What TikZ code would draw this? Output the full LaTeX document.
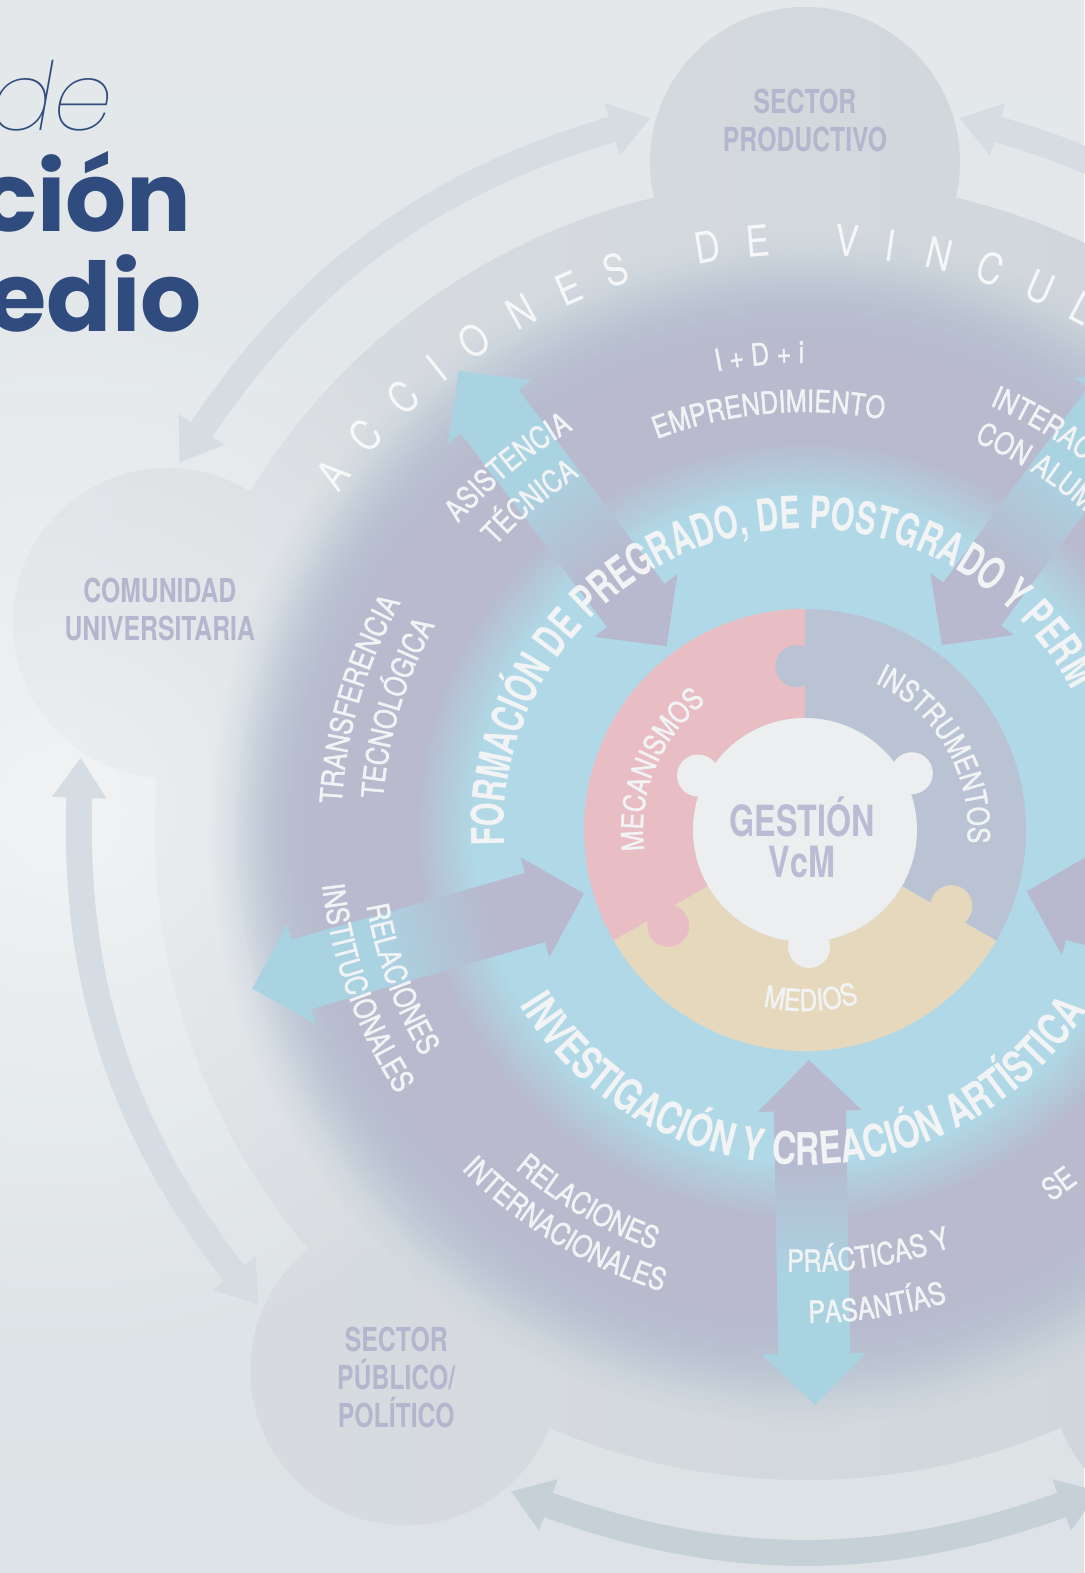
\documentclass[tikz,border=0pt]{standalone}
\usepackage{fontspec}
\setmainfont{TeX Gyre Heros}
\newfontfamily\condbold{TeX Gyre Heros}[FakeStretch=0.75]
\newfontfamily\condboldtop{TeX Gyre Heros}[FakeStretch=0.68]
\newfontfamily\condreg{TeX Gyre Heros}[FakeStretch=0.82,FakeBold=1.4]
\newfontfamily\condlight{TeX Gyre Heros}[FakeStretch=0.82]
\newfontfamily\popthin{Poppins}[UprightFont={* Thin Italic}]
\newfontfamily\popfam{Poppins}
\usetikzlibrary{arrows.meta, positioning, decorations.text, fadings}
\definecolor{bgtop}{HTML}{E4E8EB}
\definecolor{bgmid}{HTML}{F5F6F7}
\definecolor{bgbot}{HTML}{DCE2E5}
\definecolor{discleft}{HTML}{D9DDE1}
\definecolor{discright}{HTML}{CDD3D9}
\definecolor{linkgrey}{HTML}{D5DDE2}
\definecolor{linkdark}{HTML}{C6D1D7}
\definecolor{halo}{HTML}{B5C7D4}
\definecolor{ringpurple}{HTML}{B9BACE}
\definecolor{ringblue}{HTML}{B0D8E6}
\definecolor{linkpurple}{HTML}{B8B9CE}
\definecolor{linkblue}{HTML}{AAD3E2}
\definecolor{segpink}{HTML}{E8BEC4}
\definecolor{seggrey}{HTML}{BAC3D3}
\definecolor{segbeige}{HTML}{E6D8BD}
\definecolor{hub}{HTML}{ECEEF0}
\definecolor{hubtext}{HTML}{BBBCD3}
\definecolor{sectortext}{HTML}{B4B6CE}
\definecolor{bandwhite}{HTML}{F1F3F5}
\definecolor{titleblue}{HTML}{304C7E}
\pgfdeclarehorizontalshading{linkshade}{100bp}{color(0bp)=(linkpurple); color(39bp)=(linkpurple); color(56bp)=(linkblue); color(100bp)=(linkblue)}
\tikzfading[name=leftlight, inner color=transparent!0, outer color=transparent!100]
\pgfdeclarelayer{back}
\pgfsetlayers{back,main}
\newcommand{\bandfont}{\condbold\bfseries\fontsize{22.5}{27}\selectfont\color{bandwhite}}
\newcommand{\bandfonttop}{\condboldtop\bfseries\fontsize{22.5}{27}\selectfont\color{bandwhite}}
\newcommand{\actionfont}{\condreg\fontsize{15.3}{18}\selectfont\color{bandwhite}}
\newcommand{\puzzlefont}{\condreg\fontsize{15}{18}\selectfont\color{bandwhite}}
\tikzset{
  sectornode/.style={circle,minimum size=155pt,inner sep=0pt},
  sectorlabel/.style={align=center,text=sectortext,inner sep=0pt,font=\condbold\bfseries\fontsize{16.5}{19}\selectfont},
  actorlink/.style={line width=13pt,draw=linkgrey,{Triangle[width=26pt,length=20pt]}-{Triangle[width=26pt,length=20pt]},shorten <=3pt,shorten >=3pt},
  accletter/.style={text=white,text opacity=.8,inner sep=0pt,font=\condlight\fontsize{21.5}{24}\selectfont},
  arclabel/.style={decorate,decoration={text along path,text align=center,text={#1}}},
  arclabelleft/.style={decorate,decoration={text along path,text align=left,text={#1}}},
  titlepart/.style={anchor=base east,inner sep=0pt,text=titleblue},
}

\begin{document}
\begin{tikzpicture}[x=0.5pt,y=0.5pt]
  \useasboundingbox (-805,-743) rectangle (279,830);
  % actors round the model
  \node[sectornode] (prod) at (90:668) {};
  \node[sectornode] (comu) at (162:670) {};
  \node[sectornode] (pub) at (233.5:672) {};
  \node[sectornode] (sectorse) at (306.5:672) {};
  \node[sectornode] (sectorne) at (18:670) {};
  \node[sectorlabel] (prodlabel) at ([yshift=21pt]prod.center) {SECTOR\\PRODUCTIVO};
  \node[sectorlabel] (comulabel) at ([xshift=-4pt,yshift=6.5pt]comu.center) {COMUNIDAD\\UNIVERSITARIA};
  \node[sectorlabel] (publabel) at ([xshift=-4.5pt,yshift=-3.5pt]pub.center) {SECTOR\\PÚBLICO/\\POLÍTICO};

  \begin{pgfonlayer}{back}
    \shade[top color=bgtop,middle color=bgmid,bottom color=bgbot] (-805,-743) rectangle (279,830);
    \shade[left color=discleft,right color=discright] (0,0) circle[radius=650]
      (prod.center) circle[radius=155] (comu.center) circle[radius=155]
      (pub.center) circle[radius=155] (sectorse.center) circle[radius=155]
      (sectorne.center) circle[radius=155];
    % light from the left
    \fill[white,opacity=.55,path fading=leftlight] (-745,20) circle[radius=560];
    \draw[actorlink] (prod.163) to[bend right=20] (comu.87);
    \draw[actorlink] (comu.236) to[bend right=20] (pub.157);
    \draw[actorlink,draw=linkdark] (pub.310) to[bend right=20] (sectorse.230);
    \draw[actorlink] (prod.17) to[bend left=20] (sectorne.93);
    \fill[halo,path fading=circle with fuzzy edge 15 percent] (0,0) circle[radius=595];
    \fill[ringpurple,path fading=circle with fuzzy edge 15 percent] (0,0) circle[radius=570];
    \fill[ringblue,path fading=circle with fuzzy edge 15 percent] (0,0) circle[radius=390];
    % two-way links of the actions
    \foreach \a in {53.5,127,196,271,344.5}{
      \begin{scope}[transform canvas={rotate=\a}]
        \shade[shading=linkshade] (230,0) -- (281,52) -- (281,36) -- (524,36) -- (524,52) -- (575,0)
          -- (524,-52) -- (524,-36) -- (281,-36) -- (281,-52) -- cycle;
      \end{scope}}
    % puzzle
    \fill[segpink] (90:221) arc[start angle=90,end angle=210,radius=221] -- (210:112) arc[start angle=210,end angle=90,radius=112] -- cycle;
    \fill[segbeige] (210:221) arc[start angle=210,end angle=330,radius=221] -- (330:112) arc[start angle=330,end angle=210,radius=112] -- cycle;
    \fill[seggrey] (330:221) arc[start angle=330,end angle=450,radius=221] -- (90:112) arc[start angle=90,end angle=-30,radius=112] -- cycle;
    \fill[seggrey] (93:164) circle[radius=21];
    \fill[segpink] (215:167) circle[radius=21];
    \fill[segbeige] (332.5:165) circle[radius=21];
    \fill[hub] (0,0) circle[radius=112] (153:120) circle[radius=21] (28:121) circle[radius=21] (272:117) circle[radius=21];
  \end{pgfonlayer}

  % title
  \node[titlepart,font=\popthin\fontsize{47.5}{50}\selectfont] (titlede) at (-691,699) {de};
  \node[titlepart,font=\popfam\bfseries\fontsize{48}{50}\selectfont] (titlecion) at (-613,598) {ción};
  \node[titlepart,font=\popfam\bfseries\fontsize{48}{50}\selectfont] (titleedio) at (-603,498) {edio};

  % outer ring
  \foreach \a/\l [count=\i] in {143/A,138.1/C,132.9/C,128.6/I,124.1/O,118.7/N,113.5/E,108.7/S,99.5/D,94.6/E,85.9/V,81.7/I,76.8/N,71.7/C,66.5/U,62/L}
    \node[accletter,rotate=\a-90] (acc\i) at (\a:591) {\l};

  % actions
  \path[arclabel={|\actionfont|I\ +\ D\ +\ i}] (125.5:467) arc[start angle=125.5,end angle=65.5,radius=467];
  \path[arclabel={|\actionfont|EMPRENDIMIENTO}] (125:418) arc[start angle=125,end angle=65,radius=418];
  \path[arclabel={|\actionfont|ASISTENCIA}] (159.3:463) arc[start angle=159.3,end angle=99.3,radius=463];
  \path[arclabel={|\actionfont|TÉCNICA}] (160:420) arc[start angle=160,end angle=100,radius=420];
  \path[arclabel={|\actionfont|TRANSFERENCIA}] (193.7:464) arc[start angle=193.7,end angle=133.7,radius=464];
  \path[arclabel={|\actionfont|TECNOLÓGICA}] (193.4:423) arc[start angle=193.4,end angle=133.4,radius=423];
  \path[arclabel={|\actionfont|RELACIONES}] (170.2:445) arc[start angle=170.2,end angle=230.2,radius=445];
  \path[arclabel={|\actionfont|INSTITUCIONALES}] (169.7:486) arc[start angle=169.7,end angle=229.7,radius=486];
  \path[arclabel={|\actionfont|RELACIONES}] (209.8:446) arc[start angle=209.8,end angle=269.8,radius=446];
  \path[arclabel={|\actionfont|INTERNACIONALES}] (208.7:483) arc[start angle=208.7,end angle=268.7,radius=483];
  \path[arclabel={|\actionfont|PRÁCTICAS Y}] (248.5:442) arc[start angle=248.5,end angle=308.5,radius=442];
  \path[arclabel={|\actionfont|PASANTÍAS}] (248.6:493) arc[start angle=248.6,end angle=308.6,radius=493];
  \path[arclabelleft={|\actionfont|SE}] (303.5:446) arc[start angle=303.5,end angle=340,radius=446];
  \path[arclabelleft={|\actionfont|INTERAC}] (66.5:463) arc[start angle=66.5,end angle=20,radius=463];
  \path[arclabelleft={|\actionfont|CON ALUM}] (66.5:424) arc[start angle=66.5,end angle=20,radius=424];

  % functions
  \path[arclabelleft={|\bandfonttop|FORMACIÓN DE PREGRADO, DE POSTGRADO Y PERM}] (183:301) arc[start angle=183,end angle=-40,radius=301];
  \path[arclabel={|\bandfont|INVESTIGACIÓN Y CREACIÓN ARTÍSTICA}] (189.5:335) arc[start angle=189.5,end angle=349.5,radius=335];

  % management
  \path[arclabel={|\puzzlefont|MECANISMOS}] (207.5:162) arc[start angle=207.5,end angle=107.5,radius=162];
  \path[arclabel={|\puzzlefont|INSTRUMENTOS}] (80:163) arc[start angle=80,end angle=-20,radius=163];
  \path[arclabel={|\puzzlefont|MEDIOS}] (232:181) arc[start angle=232,end angle=312,radius=181];
  \node[align=center,text=hubtext,font=\condbold\bfseries\fontsize{21.5}{20.5}\selectfont] (gestion) at (-3,-7) {GESTIÓN\\VcM};
\end{tikzpicture}
\end{document}
